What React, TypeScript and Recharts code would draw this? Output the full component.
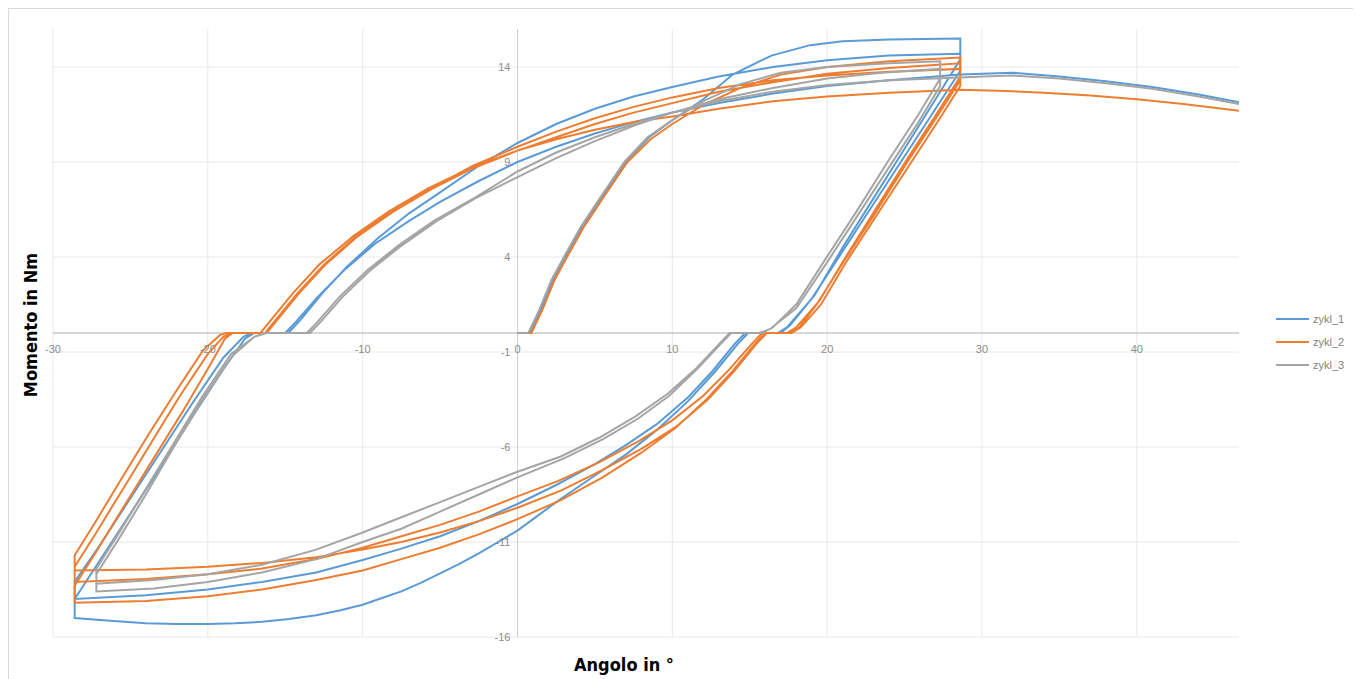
import {
  LineChart,
  Line,
  XAxis,
  YAxis,
  ReferenceLine,
  ReferenceDot,
} from "recharts";

type Pt = [number, number];

const SERIES_NAMES = ["zykl_1", "zykl_2", "zykl_3"];
const SERIES_COLORS = ["#5b9bd5", "#ed7d31", "#a5a5a5"];
const X_TICKS = [-30, -20, -10, 0, 10, 20, 30, 40];
const Y_TICKS = [14, 9, 4, -1, -6, -11, -16];

// zykl_1
const z1Virgin: Pt[] = [[0, 0], [0.8, 0], [1.5, 1.2], [2.3, 2.8], [3.1, 4.0], [4.2, 5.6], [5.5, 7.2], [7.0, 9.0], [8.5, 10.3], [10.0, 11.2], [12.0, 12.3], [13.9, 13.6], [16.4, 14.6], [18.9, 15.15], [21.0, 15.35], [24.0, 15.45], [28.6, 15.5]];
const z1Down1: Pt[] = [[28.6, 15.5], [28.6, 14.4], [27.0, 12.3], [25.0, 9.7], [23.0, 7.1], [21.0, 4.5], [19.2, 2.0], [17.6, 0.4], [17.0, 0], [14.9, 0], [14.2, -0.6], [12.8, -2.0], [11.0, -3.6], [9.0, -5.1], [7.0, -6.4], [5.0, -7.5], [3.75, -8.2], [2.5, -8.9], [1.25, -9.65], [0, -10.4], [-1.25, -11.0], [-2.5, -11.6], [-3.75, -12.15], [-5.0, -12.65], [-6.25, -13.15], [-7.5, -13.6], [-8.75, -13.95], [-10.0, -14.3], [-11.5, -14.6], [-13.0, -14.85], [-14.75, -15.05], [-16.5, -15.2], [-18.25, -15.28], [-20.0, -15.32], [-22.0, -15.32], [-24.0, -15.27], [-26.3, -15.15], [-28.6, -15.0]];
const z1Up1: Pt[] = [[-28.6, -15.0], [-28.6, -14.0], [-27.0, -12.0], [-25.0, -9.5], [-23.0, -7.0], [-21.0, -4.4], [-19.0, -1.9], [-17.6, -0.3], [-17.0, 0], [-14.8, 0], [-14.0, 0.7], [-12.6, 2.1], [-11.0, 3.5], [-9.0, 5.0], [-7.0, 6.3], [-5.0, 7.4], [-2.5, 8.8], [0, 10.0], [2.5, 11.0], [5.0, 11.8], [7.5, 12.45], [10.0, 12.95], [13.0, 13.5], [16.5, 14.0], [20.0, 14.35], [24.0, 14.6], [28.6, 14.7]];
const z1Down2: Pt[] = [[28.6, 14.7], [28.6, 13.8], [27.0, 11.8], [25.0, 9.3], [23.0, 6.8], [21.0, 4.3], [19.0, 1.8], [17.4, 0.3], [16.8, 0], [14.7, 0], [14.0, -0.6], [12.6, -2.0], [11.0, -3.4], [9.0, -4.8], [7.0, -5.9], [5.0, -6.9], [2.5, -8.0], [0, -9.0], [-2.5, -9.9], [-5.0, -10.7], [-7.5, -11.35], [-10.0, -11.95], [-13.0, -12.6], [-16.5, -13.1], [-20.0, -13.5], [-24.0, -13.8], [-28.6, -14.0]];
const z1Up2: Pt[] = [[-28.6, -14.0], [-28.6, -13.1], [-27.0, -11.2], [-25.0, -8.7], [-23.0, -6.2], [-21.0, -3.7], [-19.0, -1.3], [-17.7, -0.2], [-17.2, 0], [-15.0, 0], [-14.3, 0.6], [-12.9, 1.9], [-11.2, 3.3], [-9.2, 4.7], [-7.0, 5.9], [-5.0, 6.9], [-2.5, 8.0], [0, 9.0], [2.5, 9.8], [5.0, 10.5], [7.5, 11.1], [10.0, 11.6], [13.0, 12.1], [16.5, 12.6], [20.0, 13.0], [24.0, 13.3], [28.6, 13.6]];
const z1Tail: Pt[] = [[30.0, 13.65], [32.0, 13.7], [35.0, 13.5], [38.0, 13.25], [41.0, 12.95], [44.0, 12.55], [46.6, 12.15]];

// zykl_2
const z2Virgin: Pt[] = [[0, 0], [0.9, 0], [1.6, 1.2], [2.4, 2.8], [3.2, 4.0], [4.3, 5.6], [5.6, 7.2], [7.1, 9.0], [8.6, 10.2], [10.0, 11.0], [12.0, 12.0], [14.4, 12.9], [17.0, 13.6], [20.0, 14.0], [24.0, 14.3], [28.6, 14.5]];
const z2Down1: Pt[] = [[28.6, 14.5], [28.6, 13.5], [27.2, 11.7], [25.2, 9.2], [23.2, 6.6], [21.2, 4.0], [19.5, 1.7], [18.2, 0.3], [17.6, 0], [16.0, 0], [15.3, -0.6], [13.9, -2.0], [12.2, -3.5], [10.2, -5.0], [8.0, -6.3], [5.5, -7.6], [2.8, -8.8], [0, -9.8], [-2.5, -10.6], [-5.0, -11.3], [-7.5, -11.9], [-10.0, -12.5], [-13.0, -13.0], [-16.5, -13.5], [-20.0, -13.85], [-24.0, -14.1], [-28.6, -14.2]];
const z2Up1: Pt[] = [[-28.6, -14.2], [-28.6, -13.3], [-27.2, -11.5], [-25.4, -9.1], [-23.5, -6.6], [-21.6, -4.1], [-19.8, -1.6], [-18.9, -0.3], [-18.4, 0], [-16.2, 0], [-15.5, 0.7], [-14.1, 2.1], [-12.4, 3.6], [-10.3, 5.1], [-8.0, 6.4], [-5.5, 7.6], [-2.8, 8.7], [0, 9.6], [2.5, 10.3], [5.0, 11.0], [7.5, 11.6], [10.0, 12.1], [13.0, 12.7], [16.5, 13.2], [20.0, 13.65], [24.0, 13.95], [28.6, 14.2]];
const z2Down2: Pt[] = [[28.6, 14.2], [28.6, 13.3], [27.1, 11.4], [25.1, 8.9], [23.1, 6.3], [21.1, 3.8], [19.4, 1.6], [18.0, 0.3], [17.4, 0], [15.8, 0], [15.1, -0.6], [13.7, -1.9], [12.0, -3.3], [10.0, -4.6], [7.8, -5.7], [5.3, -6.8], [2.6, -7.8], [0, -8.6], [-2.5, -9.4], [-5.0, -10.1], [-7.5, -10.7], [-10.0, -11.3], [-13.0, -11.9], [-16.5, -12.4], [-20.0, -12.7], [-24.0, -12.95], [-28.6, -13.1]];
const z2Up2: Pt[] = [[-28.6, -13.1], [-28.6, -12.3], [-27.2, -10.5], [-25.4, -8.1], [-23.6, -5.7], [-21.8, -3.3], [-20.0, -1.1], [-19.0, -0.2], [-18.5, 0], [-16.3, 0], [-15.6, 0.7], [-14.2, 2.1], [-12.5, 3.6], [-10.4, 5.1], [-8.1, 6.4], [-5.6, 7.6], [-2.9, 8.8], [0, 9.8], [2.5, 10.6], [5.0, 11.3], [7.5, 11.9], [10.0, 12.4], [13.0, 12.9], [16.5, 13.3], [20.0, 13.55], [24.0, 13.75], [28.6, 13.9]];
const z2Down3: Pt[] = [[28.6, 13.9], [28.6, 13.0], [27.2, 11.2], [25.2, 8.7], [23.2, 6.2], [21.2, 3.7], [19.6, 1.5], [18.3, 0.3], [17.7, 0], [16.1, 0], [15.4, -0.6], [14.0, -2.0], [12.3, -3.5], [10.3, -4.9], [8.0, -6.1], [5.5, -7.2], [2.8, -8.3], [0, -9.2], [-2.5, -9.9], [-5.0, -10.5], [-7.5, -11.0], [-10.0, -11.4], [-13.0, -11.8], [-16.5, -12.1], [-20.0, -12.3], [-24.0, -12.45], [-28.6, -12.5]];
const z2Up3: Pt[] = [[-28.6, -12.5], [-28.6, -11.7], [-27.3, -10.0], [-25.6, -7.7], [-23.8, -5.3], [-22.0, -3.0], [-20.3, -0.9], [-19.2, -0.1], [-18.8, 0], [-16.6, 0], [-15.9, 0.7], [-14.5, 2.1], [-12.8, 3.6], [-10.6, 5.1], [-8.3, 6.4], [-5.8, 7.6], [-3.0, 8.7], [0, 9.6], [2.5, 10.2], [5.0, 10.7], [7.5, 11.1], [10.0, 11.4], [13.0, 11.8], [16.5, 12.2], [20.0, 12.45], [24.0, 12.65], [28.6, 12.8]];
const z2Tail: Pt[] = [[31.0, 12.75], [34.0, 12.65], [37.0, 12.5], [40.0, 12.3], [43.0, 12.05], [46.6, 11.7]];

// zykl_3
const z3Virgin: Pt[] = [[0, 0], [0.7, 0], [1.4, 1.2], [2.2, 2.8], [3.0, 4.0], [4.1, 5.6], [5.4, 7.2], [6.9, 9.0], [8.4, 10.3], [10.0, 11.2], [12.0, 12.2], [14.4, 13.1], [17.0, 13.7], [20.0, 14.0], [24.0, 14.2], [27.3, 14.3]];
const z3Down1: Pt[] = [[27.3, 14.3], [27.3, 13.4], [25.9, 11.5], [23.9, 9.0], [21.9, 6.4], [19.9, 3.9], [18.0, 1.5], [16.5, 0.3], [15.8, 0], [13.8, 0], [13.1, -0.6], [11.6, -1.9], [9.8, -3.3], [7.8, -4.5], [5.5, -5.6], [3.0, -6.6], [0, -7.6], [-2.5, -8.5], [-5.0, -9.4], [-7.5, -10.3], [-10.0, -11.0], [-13.0, -11.9], [-16.5, -12.6], [-20.0, -13.1], [-23.5, -13.45], [-27.2, -13.6]];
const z3Up1: Pt[] = [[-27.2, -13.6], [-27.2, -12.7], [-25.8, -10.9], [-24.0, -8.5], [-22.2, -6.0], [-20.4, -3.6], [-18.4, -1.2], [-17.0, -0.2], [-16.3, 0], [-13.4, 0], [-12.7, 0.6], [-11.3, 1.9], [-9.5, 3.3], [-7.5, 4.6], [-5.2, 5.9], [-2.7, 7.1], [0, 8.2], [2.5, 9.2], [5.0, 10.1], [7.5, 10.9], [10.0, 11.6], [13.0, 12.3], [16.5, 12.9], [20.0, 13.4], [23.5, 13.7], [27.3, 13.9]];
const z3Down2: Pt[] = [[27.3, 13.9], [27.3, 13.0], [25.9, 11.1], [23.9, 8.6], [21.9, 6.1], [19.9, 3.6], [18.0, 1.3], [16.3, 0.2], [15.6, 0], [13.7, 0], [13.0, -0.6], [11.5, -1.9], [9.7, -3.2], [7.6, -4.4], [5.3, -5.5], [2.8, -6.5], [0, -7.3], [-2.5, -8.1], [-5.0, -8.9], [-7.5, -9.7], [-10.0, -10.5], [-13.0, -11.4], [-16.5, -12.2], [-20.0, -12.7], [-23.5, -13.0], [-27.2, -13.2]];
const z3Up2: Pt[] = [[-27.2, -13.2], [-27.2, -12.4], [-25.8, -10.6], [-24.0, -8.2], [-22.2, -5.8], [-20.4, -3.4], [-18.5, -1.1], [-17.0, -0.2], [-16.2, 0], [-13.6, 0], [-12.9, 0.6], [-11.5, 1.9], [-9.7, 3.3], [-7.7, 4.6], [-5.4, 5.9], [-2.8, 7.1], [0, 8.5], [2.5, 9.5], [5.0, 10.3], [7.5, 11.0], [10.0, 11.6], [13.0, 12.2], [16.5, 12.7], [20.0, 13.05], [24.0, 13.3], [28.6, 13.45]];
const z3Tail: Pt[] = [[30.0, 13.5], [32.0, 13.55], [35.0, 13.4], [38.0, 13.15], [41.0, 12.85], [44.0, 12.45], [46.6, 12.05]];

const toPoints = (parts: Pt[][]) => parts.flat().map(([x, y]) => ({ x, y }));

const seriesData = [
  toPoints([z1Virgin, z1Down1, z1Up1, z1Down2, z1Up2, z1Tail]),
  toPoints([z2Virgin, z2Down1, z2Up1, z2Down2, z2Up2, z2Down3, z2Up3, z2Tail]),
  toPoints([z3Virgin, z3Down1, z3Up1, z3Down2, z3Up2, z3Tail]),
];

const TITLE_FONT = "'DejaVu Sans', sans-serif";
const TICK_FONT = "'Liberation Sans', Arial, sans-serif";
const GRID = "#e8e8e8";

const titleStyle = { fontStretch: "condensed" as const };

function YTitle(props: any) {
  const { x, y, width, height } = props.viewBox || {};
  const cx = x + width / 2 - 1;
  const cy = y + height / 2 - 8;
  return (
    <text
      x={cx}
      y={cy}
      transform={`rotate(-90, ${cx}, ${cy})`}
      textAnchor="middle"
      dominantBaseline="central"
      fontFamily={TITLE_FONT}
      fontWeight="bold"
      fontSize={18}
      fill="#000"
      style={titleStyle}
    >
      Momento in Nm
    </text>
  );
}

function XTitle(props: any) {
  const { x, y, width } = props.viewBox || {};
  return (
    <text
      x={x + width / 2 - 22}
      y={y + 27}
      textAnchor="middle"
      dominantBaseline="central"
      fontFamily={TITLE_FONT}
      fontWeight="bold"
      fontSize={18}
      fill="#000"
      style={titleStyle}
    >
      Angolo in °
    </text>
  );
}

export default function App() {
  return (
    <div
      style={{
        position: "relative",
        width: 1345,
        height: 672,
        border: "1px solid #d9d9d9",
        background: "#fff",
      }}
    >
      <LineChart
        width={1345}
        height={670}
        margin={{ top: 20, right: 115, bottom: 0, left: 0 }}
        style={{ fontFamily: TICK_FONT }}
      >
        <XAxis
          type="number"
          dataKey="x"
          domain={[-30, 46.6]}
          ticks={X_TICKS}
          allowDataOverflow
          axisLine={false}
          tickLine={false}
          tick={false}
          height={42}
          label={<XTitle />}
        />
        <YAxis
          type="number"
          dataKey="y"
          domain={[-16, 16]}
          ticks={Y_TICKS}
          allowDataOverflow
          axisLine={false}
          tickLine={false}
          tick={false}
          width={44}
          label={<YTitle />}
        />
        {X_TICKS.map((t) => (
          <ReferenceLine key={`gx${t}`} x={t} stroke={GRID} strokeWidth={1} />
        ))}
        {Y_TICKS.map((t) => (
          <ReferenceLine key={`gy${t}`} y={t} stroke={GRID} strokeWidth={1} />
        ))}
        <ReferenceLine y={0} stroke="#c8c8c8" strokeWidth={1.5} />
        <ReferenceLine x={0} stroke="#d0d0d0" strokeWidth={1} />
        {X_TICKS.map((t) => (
          <ReferenceDot
            key={`xt${t}`}
            x={t}
            y={0}
            r={0}
            fill="none"
            stroke="none"
            label={{ value: t, position: "bottom", offset: 12, fill: "#8c8c8c", fontSize: 11 }}
          />
        ))}
        {Y_TICKS.map((t) => (
          <ReferenceDot
            key={`yt${t}`}
            x={0}
            y={t}
            r={0}
            fill="none"
            stroke="none"
            label={{ value: t, position: "left", offset: 7, fill: "#8c8c8c", fontSize: 11 }}
          />
        ))}
        {seriesData.map((d, i) => (
          <Line
            key={SERIES_NAMES[i]}
            data={d}
            dataKey="y"
            name={SERIES_NAMES[i]}
            type="linear"
            stroke={SERIES_COLORS[i]}
            strokeWidth={2}
            dot={false}
            activeDot={false}
            isAnimationActive={false}
          />
        ))}
      </LineChart>
      <div style={{ position: "absolute", left: 1267, top: 298, fontFamily: TICK_FONT }}>
        {SERIES_NAMES.map((name, i) => (
          <div key={name} style={{ display: "flex", alignItems: "center", height: 23 }}>
            <span
              style={{
                display: "inline-block",
                width: 33,
                height: 2,
                background: SERIES_COLORS[i],
                marginRight: 4,
              }}
            />
            <span style={{ fontSize: 11, color: "#7f7f7f" }}>{name}</span>
          </div>
        ))}
      </div>
    </div>
  );
}
